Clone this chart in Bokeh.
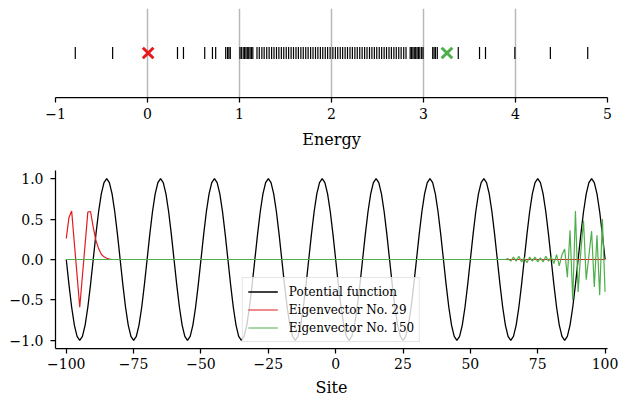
from bokeh.plotting import figure
from bokeh.layouts import column
from bokeh.models import FixedTicker, Range1d, Legend, LegendItem
from bokeh.embed import file_html
from bokeh.resources import INLINE
import math

# ---------------- data ----------------
energy_ticks = [-1, 0, 1, 2, 3, 4, 5]
energy_tick_labels = ["\u22121", "0", "1", "2", "3", "4", "5"]

# tick marks visible in the spectrum (the two selected states are drawn as crosses)
eigenvalues = [
    -0.785, -0.379, 0.326, 0.391, 0.622, 0.706, 0.741,
    0.850, 0.870, 0.885, 0.900,
    1.005, 1.020, 1.040, 1.055, 1.070, 1.085, 1.100, 1.115, 1.130, 1.145,
    1.190, 1.215, 1.243, 1.268, 1.296, 1.322, 1.349, 1.375, 1.402, 1.428,
    1.455, 1.481, 1.508, 1.534, 1.561, 1.587, 1.614, 1.640, 1.667, 1.693,
    1.720, 1.746, 1.773, 1.799, 1.826, 1.852, 1.879, 1.905, 1.932, 1.958,
    1.985, 2.015, 2.042, 2.068, 2.095, 2.121, 2.148, 2.174, 2.201, 2.227,
    2.254, 2.280, 2.307, 2.333, 2.360, 2.386, 2.413, 2.439, 2.466, 2.492,
    2.519, 2.545, 2.572, 2.598, 2.625, 2.651, 2.678, 2.704, 2.731, 2.757,
    2.785, 2.810,
    2.855, 2.870, 2.885, 2.900, 2.915, 2.930, 2.945, 2.960, 2.980, 2.995,
    3.100, 3.115, 3.130, 3.150, 3.378, 3.609, 3.674, 3.993,
    4.379, 4.785,
]
energy_29 = 0.007
energy_150 = 3.255

site_ticks = [-100, -75, -50, -25, 0, 25, 50, 75, 100]
site_tick_labels = ["\u2212100", "\u221275", "\u221250", "\u221225", "0", "25", "50", "75", "100"]
value_ticks = [-1.0, -0.5, 0.0, 0.5, 1.0]
value_tick_labels = ["\u22121.0", "\u22120.5", "0.0", "0.5", "1.0"]

sites = list(range(-100, 101))

potential = [
    0.00, -0.31, -0.59, -0.81, -0.95, -1.00, -0.95, -0.81, -0.59, -0.31, 0.00, 0.31, 0.59, 0.81, 0.95, 1.00, 0.95, 0.81, 0.59, 0.31,
    0.00, -0.31, -0.59, -0.81, -0.95, -1.00, -0.95, -0.81, -0.59, -0.31, 0.00, 0.31, 0.59, 0.81, 0.95, 1.00, 0.95, 0.81, 0.59, 0.31,
    0.00, -0.31, -0.59, -0.81, -0.95, -1.00, -0.95, -0.81, -0.59, -0.31, 0.00, 0.31, 0.59, 0.81, 0.95, 1.00, 0.95, 0.81, 0.59, 0.31,
    0.00, -0.31, -0.59, -0.81, -0.95, -1.00, -0.95, -0.81, -0.59, -0.31, 0.00, 0.31, 0.59, 0.81, 0.95, 1.00, 0.95, 0.81, 0.59, 0.31,
    0.00, -0.31, -0.59, -0.81, -0.95, -1.00, -0.95, -0.81, -0.59, -0.31, 0.00, 0.31, 0.59, 0.81, 0.95, 1.00, 0.95, 0.81, 0.59, 0.31,
    0.00, -0.31, -0.59, -0.81, -0.95, -1.00, -0.95, -0.81, -0.59, -0.31, 0.00, 0.31, 0.59, 0.81, 0.95, 1.00, 0.95, 0.81, 0.59, 0.31,
    0.00, -0.31, -0.59, -0.81, -0.95, -1.00, -0.95, -0.81, -0.59, -0.31, 0.00, 0.31, 0.59, 0.81, 0.95, 1.00, 0.95, 0.81, 0.59, 0.31,
    0.00, -0.31, -0.59, -0.81, -0.95, -1.00, -0.95, -0.81, -0.59, -0.31, 0.00, 0.31, 0.59, 0.81, 0.95, 1.00, 0.95, 0.81, 0.59, 0.31,
    0.00, -0.31, -0.59, -0.81, -0.95, -1.00, -0.95, -0.81, -0.59, -0.31, 0.00, 0.31, 0.59, 0.81, 0.95, 1.00, 0.95, 0.81, 0.59, 0.31,
    0.00, -0.31, -0.59, -0.81, -0.95, -1.00, -0.95, -0.81, -0.59, -0.31, 0.00, 0.31, 0.59, 0.81, 0.95, 1.00, 0.95, 0.81, 0.59, 0.31,
    0.00,
]

# eigenvector No. 29: sites -100 .. -84, then zero
eigvec_29_head = [0.26, 0.52, 0.60, 0.20, -0.19, -0.59, -0.20, 0.19, 0.585, 0.593,
                  0.40, 0.237, 0.135, 0.065, 0.033, 0.016, 0.004]
eigvec_29 = eigvec_29_head + [0.0] * (201 - len(eigvec_29_head))

# eigenvector No. 150: zero up to site 63, then sites 64 .. 100
eigvec_150_tail = [0.01, -0.02, 0.03, -0.02, 0.04, -0.03, 0.02, -0.04, 0.03, -0.02,
                   0.03, -0.03, 0.02, -0.03, 0.04, -0.02, 0.03, -0.05, 0.06, -0.08,
                   0.06, 0.13, -0.22, 0.36, -0.50, 0.60, -0.40, 0.10, 0.48, -0.25,
                   0.05, 0.35, -0.34, 0.30, -0.44, 0.50, -0.40]
eigvec_150 = [0.0] * (201 - len(eigvec_150_tail)) + eigvec_150_tail

# ---------------- style ----------------
FONT = "DejaVu Serif"
RED = "#e41a1c"
GREEN = "#4daf4a"


def style_axis(ax, ticks, labels):
    ax.ticker = FixedTicker(ticks=ticks)
    ax.major_label_overrides = {t: l for t, l in zip(ticks, labels)}
    ax.minor_tick_line_color = None
    ax.major_tick_in = 0
    ax.major_tick_out = 5
    ax.major_tick_line_width = 1.25
    ax.axis_line_width = 1.25
    ax.major_label_text_font = FONT
    ax.major_label_text_font_size = "14px"
    ax.major_label_text_color = "black"
    ax.axis_label_text_font = FONT
    ax.axis_label_text_font_size = "16px"
    ax.axis_label_text_font_style = "normal"
    ax.axis_label_text_color = "black"


# top panel: spectrum
p1 = figure(width=619, height=155, x_range=Range1d(-1, 5), y_range=Range1d(-1, 1),
            output_backend="svg", toolbar_location=None, y_axis_location=None,
            min_border_left=54, min_border_right=12, min_border_top=8, min_border_bottom=58)
p1.outline_line_color = None
p1.ygrid.visible = False
p1.xgrid.ticker = FixedTicker(ticks=energy_ticks)
p1.xgrid.grid_line_color = "#b8b8b8"
p1.xgrid.grid_line_width = 1.5
style_axis(p1.xaxis[0], energy_ticks, energy_tick_labels)
p1.xaxis.axis_label = "Energy"
p1.xaxis.major_label_standoff = 5
p1.xaxis.axis_label_standoff = 8

p1.scatter(x=eigenvalues, y=[0] * len(eigenvalues), marker="dash", angle=math.pi / 2,
           size=12, line_color="black", line_width=1.2)
p1.scatter(x=[energy_29], y=[0], marker="x", size=15, line_color=RED, line_width=3)
p1.scatter(x=[energy_150], y=[0], marker="x", size=15, line_color=GREEN, line_width=3)

# bottom panel: functions over sites
p2 = figure(width=619, height=244, x_range=Range1d(-104, 100.9), y_range=Range1d(-1.1, 1.1),
            output_backend="svg", toolbar_location=None,
            min_border_left=55, min_border_right=12, min_border_top=15, min_border_bottom=51)
p2.outline_line_color = None
p2.grid.visible = False
style_axis(p2.xaxis[0], site_ticks, site_tick_labels)
style_axis(p2.yaxis[0], value_ticks, value_tick_labels)
p2.xaxis.axis_label = "Site"
p2.xaxis.major_label_standoff = 4
p2.xaxis.axis_label_standoff = 6
p2.yaxis.major_label_standoff = 7

r_pot = p2.line(sites, potential, line_color="black", line_width=1.3)
r_29 = p2.line(sites, eigvec_29, line_color=RED, line_width=1.2)
r_150 = p2.line(sites, eigvec_150, line_color=GREEN, line_width=1.2)

legend = Legend(items=[
    LegendItem(label="Potential function", renderers=[r_pot]),
    LegendItem(label="Eigenvector No. 29", renderers=[r_29]),
    LegendItem(label="Eigenvector No. 150", renderers=[r_150]),
], location="bottom_center")
legend.label_text_font = FONT
legend.label_text_font_size = "12px"
legend.label_text_color = "black"
legend.glyph_width = 30
legend.glyph_height = 17
legend.label_height = 17
legend.spacing = 1
legend.padding = 5
legend.margin = 6
legend.label_standoff = 11
legend.border_line_color = "#cccccc"
legend.border_line_width = 1
legend.background_fill_alpha = 0.8
p2.add_layout(legend)

layout = column(p1, p2, spacing=0)

open("out.html", "w").write(file_html(layout, INLINE))
